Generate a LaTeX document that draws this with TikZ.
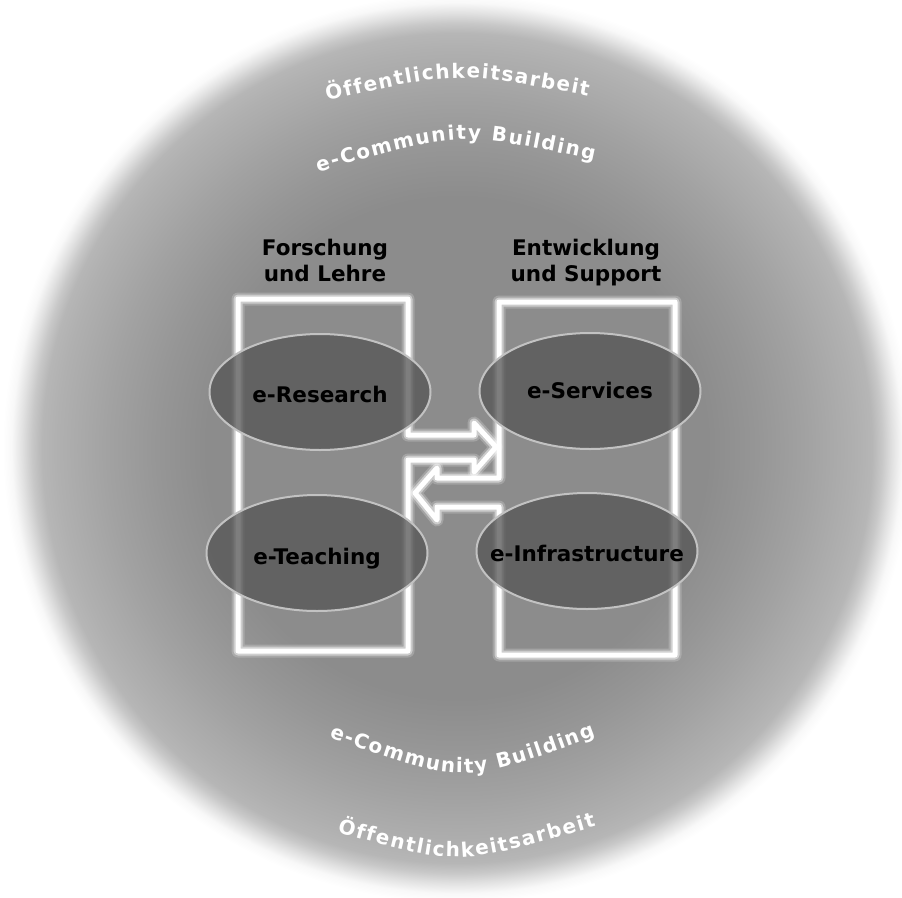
\documentclass[tikz,border=0pt]{standalone}
\usepackage{fontspec}
\setmainfont{DejaVu Sans}
\usetikzlibrary{shapes.geometric,decorations.text}
\definecolor{ellfill}{gray}{0.33}
\definecolor{ellline}{gray}{0.76}
\pgfdeclareradialshading{bgshade}{\pgfpoint{0bp}{0bp}}{%
rgb(0bp)=(0.549,0.549,0.549);
rgb(13.6bp)=(0.549,0.549,0.549);
rgb(16.3bp)=(0.588,0.588,0.588);
rgb(19bp)=(0.635,0.635,0.635);
rgb(21.7bp)=(0.69,0.69,0.69);
rgb(22.55bp)=(0.714,0.714,0.714);
rgb(23.1bp)=(0.784,0.784,0.784);
rgb(23.64bp)=(0.882,0.882,0.882);
rgb(24.2bp)=(0.973,0.973,0.973);
rgb(24.7bp)=(1,1,1);
rgb(50bp)=(1,1,1)}
\newcommand{\myarcfont}{\fontsize{20}{20}\selectfont\bfseries\color{white}}
\tikzset{
  boxline/.style={draw=white, line width=5pt, line join=round, line cap=round,
    preaction={draw=white, draw opacity=0.2, line width=13pt, line join=round},
    preaction={draw=white, draw opacity=0.45, line width=9pt, line join=round}},
  ell/.style={ellipse, minimum width=221pt, minimum height=116pt, inner sep=0pt,
    fill=ellfill, fill opacity=0.75, draw=ellline, draw opacity=1, line width=2pt,
    text opacity=1, text=black, font=\fontsize{21.5}{26}\selectfont\bfseries,
    text height=21pt, text depth=0pt},
  head/.style={font=\fontsize{21.5}{26}\selectfont\bfseries, align=center, inner sep=0pt, text=black},
  arctext/.style={decorate, decoration={text along path, text align={fit to path}, text color=white, text={|\myarcfont|#1}}}
}
\begin{document}
\begin{tikzpicture}[x=1pt,y=-1pt]
\useasboundingbox (0,0) rectangle (902,897);
% background disk
\shade[shading=bgshade] (457,448) circle[radius=460pt];
% arc texts
\path[arctext={Öffentlichkeitsarbeit}] (327,101) .. controls (456.8,71.2) .. (588,96);
\path[arctext={e-Community Building}] (318,172) .. controls (458.7,131.3) .. (594,160);
\path[arctext={e-Community Building}] (329,737) .. controls (461.9,785.2) .. (596,736);
\path[arctext={Öffentlichkeitsarbeit}] (337,832) .. controls (457.8,866.3) .. (596,826);
% boxes with arrows
\path[boxline] (408,435) -- (408,299) -- (238,299) -- (238,651) -- (408,651) -- (408,460)
  -- (474,460) -- (474,472) -- (496,447) -- (474,423) -- (474,435) -- cycle;
\path[boxline] (499,478) -- (499,302) -- (675,302) -- (675,655) -- (499,655) -- (499,507)
  -- (437,507) -- (437,520) -- (415,493) -- (437,468) -- (437,478) -- cycle;
% headings
\node[head, anchor=north] (fl) at (325,239) {Forschung\\und Lehre};
\node[head, anchor=north] (es) at (586,239) {Entwicklung\\und Support};
% ellipses
\node[ell] (res) at (320,392) {\makebox[0pt]{e-Research}};
\node[ell, text height=15pt] (ser) at (590,391) {\makebox[0pt]{e-Services}};
\node[ell, text height=22pt] (tea) at (317,553) {\makebox[0pt]{e-Teaching}};
\node[ell] (inf) at (587,551) {\makebox[0pt]{e-Infrastructure}};
\end{tikzpicture}
\end{document}
